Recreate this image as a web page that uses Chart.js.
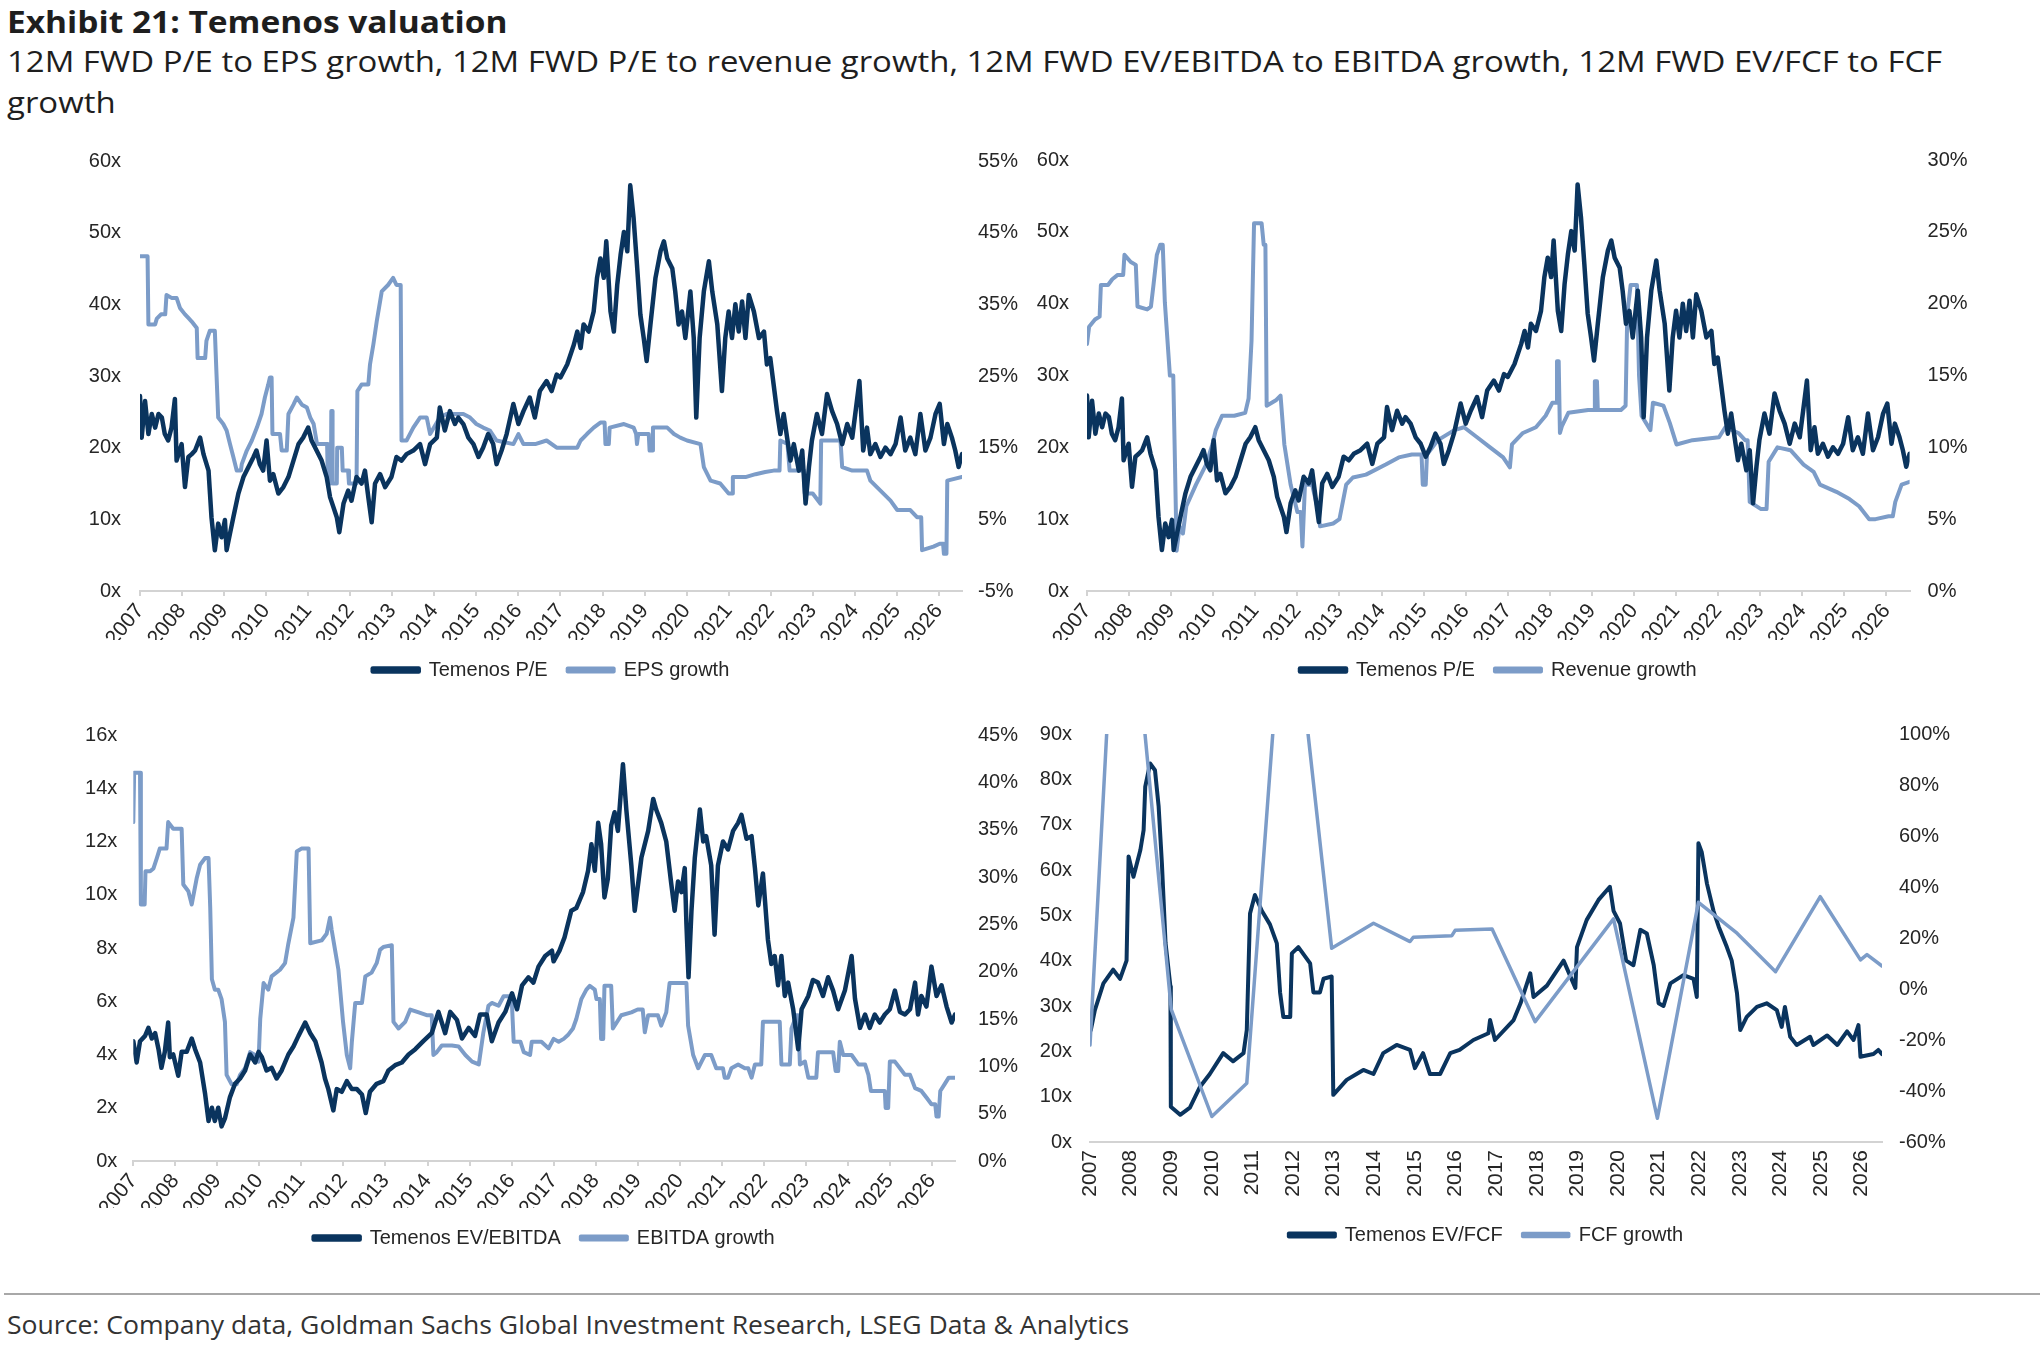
<!DOCTYPE html>
<html>
<head>
<meta charset="utf-8">
<title>Temenos valuation</title>
<script src="https://cdn.jsdelivr.net/npm/chart.js@4.4.1/dist/chart.umd.min.js"></script>
<style>
  html, body { margin: 0; padding: 0; background: #fff; }
  body { width: 2044px; height: 1372px; position: relative; overflow: hidden; font-family: "Open Sans", "Noto Sans", sans-serif; color: #1e1e1e; }
  .line { position: absolute; left: 7px; white-space: nowrap; transform-origin: 0 50%; }
  #title { top: 2px; font-size: 31px; line-height: 38px; font-weight: 700; }
  #sub1 { top: 43px; font-size: 29px; line-height: 36px; }
  #sub2 { top: 84px; font-size: 29px; line-height: 36px; }
  #rule { position: absolute; left: 4px; top: 1293px; width: 2036px; height: 2px; background: #a8a8a8; }
  #source { top: 1308px; font-size: 26px; line-height: 32px; color: #333; }
  canvas { position: absolute; }
</style>
</head>
<body>
<div class="line" id="title" data-w="501">Exhibit 21: Temenos valuation</div>
<div class="line" id="sub1" data-w="1935">12M FWD P/E to EPS growth, 12M FWD P/E to revenue growth, 12M FWD EV/EBITDA to EBITDA growth, 12M FWD EV/FCF to FCF</div>
<div class="line" id="sub2">growth</div>

<canvas id="c1" width="1040" height="560" style="left:0px;top:130px"></canvas>
<canvas id="c2" width="1094" height="560" style="left:950px;top:130px"></canvas>
<canvas id="c3" width="1040" height="558" style="left:0px;top:700px"></canvas>
<canvas id="c4" width="1094" height="555" style="left:950px;top:700px"></canvas>

<div id="rule"></div>
<div class="line" id="source" data-w="1122">Source: Company data, Goldman Sachs Global Investment Research, LSEG Data &amp; Analytics</div>

<script>
// tick labels
const yearTicks = [2007, 2008, 2009, 2010, 2011, 2012, 2013, 2014, 2015, 2016, 2017, 2018, 2019, 2020, 2021, 2022, 2023, 2024, 2025, 2026];
const peTicks = [0, 10, 20, 30, 40, 50, 60];
const epsTicks = [-5, 5, 15, 25, 35, 45, 55];
const revTicks = [0, 5, 10, 15, 20, 25, 30];
const evEbitdaTicks = [0, 2, 4, 6, 8, 10, 12, 14, 16];
const ebitdaTicks = [0, 5, 10, 15, 20, 25, 30, 35, 40, 45];
const evFcfTicks = [0, 10, 20, 30, 40, 50, 60, 70, 80, 90];
const fcfTicks = [-60, -40, -20, 0, 20, 40, 60, 80, 100];

// Temenos 12M fwd P/E  [year, x]
const temenosPE = [
  [2007.00,27.2],[2007.04,21.4],[2007.12,26.5],[2007.20,21.9],[2007.28,24.7],[2007.36,22.8],[2007.44,24.7],[2007.52,24.2],[2007.59,21.9],[2007.67,21.0],
  [2007.75,22.8],[2007.83,26.8],[2007.87,18.2],[2007.99,20.5],[2008.07,14.5],[2008.15,18.7],[2008.23,19.1],[2008.31,19.6],[2008.43,21.4],[2008.51,19.1],
  [2008.63,16.8],[2008.70,10.3],[2008.78,5.7],[2008.86,9.4],[2008.94,7.5],[2009.02,9.9],[2009.06,5.7],[2009.14,8.0],[2009.22,10.3],[2009.34,13.6],
  [2009.46,15.9],[2009.58,17.3],[2009.70,18.7],[2009.77,19.6],[2009.85,17.7],[2009.93,16.8],[2010.01,21.0],[2010.09,15.4],[2010.17,16.3],[2010.29,13.6],
  [2010.41,14.5],[2010.53,15.9],[2010.65,18.2],[2010.77,20.5],[2010.88,21.4],[2011.00,22.8],[2011.08,21.0],[2011.20,19.6],[2011.32,18.2],[2011.44,15.9],
  [2011.52,13.1],[2011.60,11.7],[2011.68,10.3],[2011.74,8.2],[2011.84,12.2],[2011.95,14.0],[2012.03,12.6],[2012.15,15.9],[2012.27,15.0],[2012.35,16.8],
  [2012.43,13.1],[2012.51,9.6],[2012.59,15.0],[2012.71,16.3],[2012.83,14.5],[2012.98,15.9],[2013.10,18.7],[2013.22,18.2],[2013.34,19.1],[2013.50,19.6],
  [2013.66,20.5],[2013.78,17.7],[2013.90,20.5],[2014.06,21.4],[2014.13,25.6],[2014.25,22.4],[2014.37,25.1],[2014.49,23.3],[2014.57,24.2],[2014.69,23.3],
  [2014.81,21.4],[2014.93,20.5],[2015.05,18.7],[2015.16,20.0],[2015.28,21.9],[2015.40,20.5],[2015.48,17.7],[2015.60,19.6],[2015.72,21.9],[2015.88,26.1],
  [2016.00,23.3],[2016.12,25.1],[2016.27,27.0],[2016.39,24.2],[2016.51,27.9],[2016.67,29.3],[2016.79,27.9],[2016.91,30.2],[2017.00,29.8],[2017.16,31.6],
  [2017.32,34.4],[2017.40,36.2],[2017.48,33.9],[2017.55,37.2],[2017.67,36.2],[2017.79,39.0],[2017.87,43.7],[2017.95,46.4],[2018.03,43.7],[2018.09,48.8],
  [2018.19,39.0],[2018.27,36.2],[2018.35,42.7],[2018.43,46.9],[2018.51,50.1],[2018.59,47.4],[2018.66,56.6],[2018.74,52.0],[2018.82,45.5],[2018.90,38.6],
  [2018.98,35.3],[2019.05,32.1],[2019.14,37.2],[2019.26,43.7],[2019.38,47.4],[2019.46,48.8],[2019.54,46.4],[2019.66,45.0],[2019.73,41.8],[2019.81,37.2],
  [2019.89,39.0],[2019.97,35.3],[2020.09,41.8],[2020.17,35.3],[2020.23,24.2],[2020.31,35.3],[2020.41,41.8],[2020.53,46.0],[2020.61,41.8],[2020.73,37.2],
  [2020.84,27.9],[2020.92,35.3],[2021.00,39.0],[2021.08,35.3],[2021.16,40.0],[2021.24,36.2],[2021.32,40.4],[2021.40,35.3],[2021.48,41.3],[2021.60,39.0],
  [2021.72,35.3],[2021.84,36.2],[2021.91,31.6],[2021.99,32.5],[2022.07,28.8],[2022.15,25.1],[2022.23,21.9],[2022.31,24.7],[2022.39,21.4],[2022.47,18.2],
  [2022.55,20.5],[2022.67,16.8],[2022.75,19.6],[2022.83,12.2],[2022.91,17.3],[2022.98,21.0],[2023.10,24.7],[2023.22,21.9],[2023.34,27.5],[2023.46,25.1],
  [2023.58,23.3],[2023.70,20.5],[2023.82,23.3],[2023.94,21.4],[2024.02,25.1],[2024.11,29.3],[2024.20,19.6],[2024.29,22.8],[2024.37,19.1],[2024.49,20.5],
  [2024.61,18.7],[2024.73,20.0],[2024.85,19.1],[2024.97,20.5],[2025.09,24.2],[2025.20,19.6],[2025.32,21.4],[2025.44,19.1],[2025.56,24.7],[2025.68,19.6],
  [2025.80,21.4],[2025.92,24.7],[2026.02,26.1],[2026.12,20.5],[2026.20,23.3],[2026.31,21.4],[2026.39,19.6],[2026.47,17.3],[2026.55,19.1]
];

// EPS growth  [year, %]
const epsGrowth = [
  [2007.00,41.7],[2007.18,41.7],[2007.20,32.2],[2007.36,32.2],[2007.40,33.0],[2007.50,33.6],[2007.60,33.6],[2007.63,36.3],[2007.75,35.9],[2007.87,35.9],
  [2007.95,34.5],[2008.07,33.6],[2008.15,33.1],[2008.23,32.6],[2008.35,31.7],[2008.37,27.5],[2008.55,27.5],[2008.58,29.9],[2008.66,31.3],[2008.78,31.3],
  [2008.82,25.2],[2008.86,19.2],[2008.98,18.3],[2009.06,17.4],[2009.14,15.5],[2009.22,13.7],[2009.30,11.8],[2009.40,11.8],[2009.42,12.7],[2009.54,14.6],
  [2009.66,16.0],[2009.78,17.8],[2009.89,19.7],[2009.97,22.0],[2010.05,23.8],[2010.09,24.8],[2010.13,24.8],[2010.15,16.9],[2010.33,16.9],[2010.37,14.6],
  [2010.49,14.6],[2010.53,19.7],[2010.65,21.0],[2010.73,22.0],[2010.85,21.0],[2010.97,20.6],[2011.05,19.2],[2011.13,18.3],[2011.21,15.5],[2011.45,15.5],
  [2011.47,10.0],[2011.54,10.0],[2011.55,20.1],[2011.57,20.1],[2011.58,10.0],[2011.68,10.0],[2011.69,15.0],[2011.80,15.0],[2011.82,11.8],[2011.95,11.8],
  [2011.97,10.0],[2012.15,10.0],[2012.17,22.9],[2012.27,23.8],[2012.43,23.8],[2012.47,26.6],[2012.55,29.4],[2012.63,32.6],[2012.75,36.8],[2012.90,37.7],
  [2013.02,38.7],[2013.10,37.7],[2013.20,37.7],[2013.22,16.0],[2013.34,16.0],[2013.50,17.8],[2013.66,19.2],[2013.82,19.2],[2013.90,16.9],[2014.13,19.2],
  [2014.29,19.7],[2014.69,19.7],[2014.85,19.2],[2015.00,18.3],[2015.16,17.8],[2015.32,17.4],[2015.48,16.0],[2015.88,15.5],[2016.00,16.9],[2016.12,15.5],
  [2016.40,15.5],[2016.67,16.0],[2016.91,15.0],[2017.40,15.0],[2017.48,16.0],[2017.63,16.9],[2017.79,17.8],[2017.95,18.5],[2018.05,18.5],[2018.07,15.5],
  [2018.15,15.5],[2018.17,17.8],[2018.51,18.3],[2018.74,17.8],[2018.80,16.9],[2018.82,15.5],[2018.85,16.9],[2019.10,16.9],[2019.12,14.6],[2019.18,14.6],
  [2019.20,17.8],[2019.54,17.8],[2019.70,16.9],[2019.85,16.4],[2020.01,16.0],[2020.33,15.5],[2020.41,12.3],[2020.57,10.4],[2020.80,10.0],[2021.00,8.6],
  [2021.08,8.6],[2021.10,10.9],[2021.40,10.9],[2021.64,11.3],[2021.87,11.6],[2022.07,11.8],[2022.21,11.8],[2022.23,16.0],[2022.40,15.5],[2022.45,11.8],
  [2022.79,11.8],[2022.81,8.6],[2023.00,8.6],[2023.18,7.2],[2023.20,16.0],[2023.66,16.0],[2023.70,12.3],[2023.94,11.8],[2024.29,11.8],[2024.37,10.4],
  [2024.61,9.0],[2024.85,7.6],[2025.01,6.3],[2025.32,6.3],[2025.48,5.3],[2025.58,5.3],[2025.60,0.7],[2025.87,1.2],[2026.02,1.6],[2026.10,1.6],
  [2026.12,0.2],[2026.18,0.2],[2026.20,10.4],[2026.55,10.9]
];

// Revenue growth  [year, %]
const revenueGrowth = [
  [2007.00,17.2],[2007.05,18.4],[2007.19,18.9],[2007.30,19.1],[2007.33,21.3],[2007.50,21.3],[2007.60,21.7],[2007.73,22.0],[2007.86,22.0],[2007.89,23.4],
  [2008.04,22.9],[2008.16,22.7],[2008.20,19.8],[2008.43,19.6],[2008.52,19.8],[2008.58,21.3],[2008.66,23.4],[2008.74,24.1],[2008.80,24.1],[2008.85,20.1],
  [2008.97,15.0],[2009.05,15.0],[2009.08,10.5],[2009.13,2.8],[2009.20,4.5],[2009.28,4.0],[2009.36,5.9],[2009.59,7.4],[2009.83,8.8],[2009.98,10.2],
  [2010.06,11.2],[2010.21,12.2],[2010.50,12.2],[2010.76,12.4],[2010.84,13.4],[2010.91,17.4],[2010.97,25.6],[2011.15,25.6],[2011.20,24.1],[2011.24,24.1],
  [2011.27,12.9],[2011.50,13.3],[2011.60,13.6],[2011.69,10.2],[2011.84,7.4],[2012.00,5.5],[2012.08,5.5],[2012.12,3.1],[2012.18,7.4],[2012.35,7.4],
  [2012.47,5.9],[2012.54,4.5],[2012.85,4.7],[2013.00,5.0],[2013.16,7.4],[2013.32,7.9],[2013.63,8.1],[2014.10,8.8],[2014.41,9.3],[2014.72,9.5],
  [2014.95,9.5],[2014.98,7.4],[2015.05,7.4],[2015.08,9.5],[2015.34,10.5],[2015.73,11.2],[2015.96,11.4],[2016.27,10.7],[2016.58,10.0],[2016.89,9.3],
  [2017.05,8.6],[2017.10,10.2],[2017.36,11.0],[2017.67,11.4],[2017.90,12.2],[2018.06,13.1],[2018.15,13.1],[2018.17,16.0],[2018.21,16.0],[2018.24,11.0],
  [2018.29,11.5],[2018.44,12.4],[2018.91,12.6],[2019.05,12.6],[2019.07,14.6],[2019.12,14.6],[2019.14,12.6],[2019.69,12.6],[2019.80,12.9],[2019.84,19.3],
  [2019.92,21.3],[2020.07,21.3],[2020.12,15.0],[2020.18,12.2],[2020.39,11.2],[2020.45,13.1],[2020.70,12.9],[2020.85,11.7],[2021.01,10.2],[2021.39,10.5],
  [2022.02,10.7],[2022.17,11.4],[2022.48,11.0],[2022.64,10.5],[2022.70,10.5],[2022.75,6.2],[2023.02,5.7],[2023.15,5.7],[2023.20,9.0],[2023.41,10.0],
  [2023.72,9.8],[2024.03,8.8],[2024.27,8.3],[2024.42,7.4],[2024.81,6.9],[2025.12,6.4],[2025.35,5.9],[2025.59,5.0],[2025.74,5.0],[2026.05,5.2],
  [2026.15,5.2],[2026.21,6.2],[2026.36,7.4],[2026.55,7.6]
];

// Temenos 12M fwd EV/EBITDA  [year, x]
const temenosEvEbitda = [
  [2007.00,4.5],[2007.08,3.7],[2007.16,4.5],[2007.28,4.7],[2007.36,5.0],[2007.44,4.6],[2007.52,4.8],[2007.60,4.2],[2007.67,3.5],[2007.75,4.1],
  [2007.83,5.2],[2007.87,3.9],[2007.95,4.0],[2008.07,3.2],[2008.15,4.1],[2008.27,4.1],[2008.39,4.6],[2008.47,4.2],[2008.59,3.7],[2008.71,2.5],
  [2008.79,1.5],[2008.87,2.0],[2008.94,1.5],[2009.02,2.0],[2009.10,1.3],[2009.18,1.6],[2009.30,2.4],[2009.42,2.9],[2009.54,3.1],[2009.66,3.4],
  [2009.78,4.0],[2009.90,3.7],[2009.98,4.1],[2010.06,3.9],[2010.17,3.4],[2010.29,3.5],[2010.41,3.1],[2010.53,3.4],[2010.69,4.0],[2010.81,4.3],
  [2010.93,4.7],[2011.09,5.2],[2011.21,4.8],[2011.33,4.5],[2011.48,3.7],[2011.56,3.1],[2011.64,2.7],[2011.76,1.9],[2011.84,2.7],[2011.96,2.6],
  [2012.08,3.0],[2012.20,2.7],[2012.32,2.7],[2012.44,2.5],[2012.53,1.8],[2012.63,2.6],[2012.79,2.9],[2012.95,3.0],[2013.07,3.4],[2013.23,3.6],
  [2013.39,3.7],[2013.55,4.0],[2013.71,4.2],[2013.90,4.5],[2014.10,4.8],[2014.26,5.6],[2014.42,4.8],[2014.54,5.6],[2014.70,5.3],[2014.82,4.6],
  [2014.98,5.0],[2015.13,4.7],[2015.25,5.5],[2015.41,5.5],[2015.53,4.5],[2015.69,5.2],[2015.85,5.6],[2016.01,6.3],[2016.13,5.7],[2016.25,6.6],
  [2016.40,6.9],[2016.52,6.7],[2016.64,7.3],[2016.80,7.7],[2016.96,7.9],[2017.00,7.5],[2017.14,7.9],[2017.26,8.4],[2017.42,9.4],[2017.54,9.5],
  [2017.70,10.1],[2017.82,10.9],[2017.90,11.9],[2017.98,10.9],[2018.06,12.7],[2018.13,11.9],[2018.21,9.9],[2018.29,10.6],[2018.37,12.6],[2018.45,13.1],
  [2018.53,12.4],[2018.65,14.9],[2018.73,13.2],[2018.85,11.1],[2018.93,9.4],[2019.01,10.4],[2019.09,11.4],[2019.25,12.4],[2019.37,13.6],[2019.44,13.2],
  [2019.56,12.7],[2019.68,12.0],[2019.80,10.4],[2019.88,9.4],[2019.96,10.5],[2020.04,10.1],[2020.12,11.0],[2020.16,8.9],[2020.21,6.9],[2020.28,9.4],
  [2020.36,11.4],[2020.48,13.2],[2020.56,12.0],[2020.63,12.2],[2020.75,11.1],[2020.83,8.5],[2020.91,11.1],[2021.03,12.0],[2021.15,11.7],[2021.27,12.4],
  [2021.39,12.7],[2021.47,13.0],[2021.59,12.1],[2021.71,12.2],[2021.79,11.0],[2021.87,9.6],[2021.98,10.8],[2022.10,8.3],[2022.18,7.4],[2022.26,7.7],
  [2022.34,6.6],[2022.42,7.7],[2022.50,6.2],[2022.58,6.7],[2022.70,5.7],[2022.82,4.2],[2022.90,5.7],[2023.06,6.2],[2023.17,6.8],[2023.29,6.7],
  [2023.41,6.2],[2023.53,6.9],[2023.65,6.4],[2023.77,5.7],[2023.93,6.4],[2024.09,7.7],[2024.17,6.1],[2024.29,5.0],[2024.41,5.5],[2024.52,5.0],
  [2024.64,5.5],[2024.76,5.2],[2024.88,5.5],[2025.00,5.7],[2025.12,6.4],[2025.24,5.6],[2025.36,5.5],[2025.48,5.7],[2025.60,6.7],[2025.67,5.5],
  [2025.75,6.2],[2025.87,5.8],[2025.99,7.3],[2026.11,6.2],[2026.23,6.6],[2026.35,5.8],[2026.47,5.2],[2026.55,5.5]
];

// EBITDA growth  [year, %]
const ebitdaGrowth = [
  [2007.00,35.8],[2007.02,41.0],[2007.16,41.0],[2007.18,27.1],[2007.27,27.1],[2007.29,30.6],[2007.40,30.6],[2007.48,30.9],[2007.56,32.0],[2007.63,33.0],
  [2007.79,33.0],[2007.83,35.8],[2007.95,35.1],[2008.15,35.1],[2008.19,29.2],[2008.31,28.5],[2008.39,27.1],[2008.51,29.9],[2008.59,31.3],[2008.71,32.0],
  [2008.79,32.0],[2008.83,26.8],[2008.87,19.2],[2008.94,18.1],[2009.02,18.1],[2009.10,17.1],[2009.18,14.7],[2009.22,9.1],[2009.34,8.1],[2009.46,8.1],
  [2009.54,9.1],[2009.66,9.8],[2009.78,11.5],[2009.90,11.2],[2009.98,10.5],[2010.02,15.0],[2010.10,18.8],[2010.21,18.1],[2010.29,19.5],[2010.49,20.2],
  [2010.61,20.9],[2010.69,23.0],[2010.81,25.7],[2010.89,32.7],[2011.00,33.0],[2011.17,33.0],[2011.21,23.0],[2011.48,23.3],[2011.60,24.0],[2011.68,25.7],
  [2011.72,24.4],[2011.80,22.3],[2011.88,20.2],[2011.99,14.7],[2012.08,11.2],[2012.16,9.8],[2012.20,12.6],[2012.28,16.7],[2012.44,16.7],[2012.52,19.5],
  [2012.67,19.9],[2012.79,20.9],[2012.87,22.3],[2012.95,22.6],[2013.15,22.8],[2013.19,14.7],[2013.31,14.0],[2013.47,14.7],[2013.59,16.0],[2013.79,15.7],
  [2013.98,15.4],[2014.10,15.4],[2014.14,11.2],[2014.22,11.5],[2014.34,12.2],[2014.58,12.2],[2014.74,12.1],[2014.90,11.2],[2015.06,10.5],[2015.22,10.2],
  [2015.33,13.6],[2015.45,16.4],[2015.53,16.7],[2015.69,16.4],[2015.81,17.4],[2016.00,17.4],[2016.05,12.6],[2016.21,12.6],[2016.29,11.5],[2016.44,11.2],
  [2016.48,12.6],[2016.71,12.6],[2016.88,11.9],[2017.00,12.9],[2017.12,12.6],[2017.24,12.9],[2017.34,13.3],[2017.46,14.0],[2017.54,15.0],[2017.66,17.1],
  [2017.78,18.1],[2017.86,18.5],[2017.98,18.1],[2018.02,17.1],[2018.10,17.1],[2018.13,12.9],[2018.18,12.9],[2018.21,18.5],[2018.37,18.5],[2018.41,14.0],
  [2018.61,15.4],[2018.85,15.7],[2019.00,16.0],[2019.12,16.0],[2019.17,13.6],[2019.25,15.4],[2019.48,15.4],[2019.56,14.3],[2019.68,15.7],[2019.76,18.8],
  [2020.16,18.8],[2020.20,14.3],[2020.32,11.2],[2020.44,9.8],[2020.52,10.5],[2020.60,11.2],[2020.75,11.2],[2020.87,9.8],[2021.03,9.8],[2021.07,8.8],
  [2021.15,8.8],[2021.23,9.8],[2021.39,10.2],[2021.55,9.8],[2021.63,9.8],[2021.71,8.8],[2021.79,10.2],[2021.94,10.2],[2021.98,14.7],[2022.38,14.7],
  [2022.42,10.2],[2022.62,10.2],[2022.66,14.0],[2022.78,15.4],[2022.82,15.4],[2022.86,10.2],[2022.98,10.5],[2023.06,8.8],[2023.25,8.8],[2023.29,11.5],
  [2023.65,11.5],[2023.71,9.5],[2023.77,9.5],[2023.81,12.6],[2023.89,11.2],[2024.09,11.2],[2024.25,10.2],[2024.41,10.2],[2024.49,9.1],[2024.55,7.4],
  [2024.88,7.4],[2024.90,5.6],[2024.96,5.6],[2025.00,10.5],[2025.12,10.5],[2025.24,9.8],[2025.36,9.1],[2025.48,9.1],[2025.60,7.7],[2025.75,7.4],
  [2025.87,6.7],[2025.99,6.0],[2026.08,6.0],[2026.11,4.7],[2026.16,4.7],[2026.20,7.4],[2026.30,8.1],[2026.40,8.8],[2026.55,8.8]
];

// Temenos 12M fwd EV/FCF  [year, x]
const temenosEvFcf = [
  [2007.02,24.7],[2007.12,29.1],[2007.33,35.0],[2007.57,38.0],[2007.74,36.0],[2007.90,40.0],[2007.95,63.0],[2008.07,58.5],[2008.24,64.4],[2008.32,68.8],
  [2008.36,78.4],[2008.48,83.5],[2008.60,82.0],[2008.69,74.0],[2008.77,61.5],[2008.86,43.9],[2008.98,34.3],[2008.99,7.8],[2009.22,6.0],[2009.46,7.6],
  [2009.71,12.2],[2009.95,15.0],[2010.28,19.6],[2010.52,17.8],[2010.78,19.6],[2010.86,24.7],[2010.94,50.4],[2011.06,54.5],[2011.23,51.0],[2011.43,48.0],
  [2011.60,43.8],[2011.68,33.0],[2011.76,27.6],[2011.93,27.6],[2011.97,41.6],[2012.13,43.0],[2012.42,39.4],[2012.50,33.0],[2012.66,33.0],[2012.75,36.0],
  [2012.95,36.5],[2012.99,10.4],[2013.32,13.7],[2013.73,15.9],[2013.98,15.0],[2014.22,19.6],[2014.55,21.4],[2014.88,20.3],[2015.00,16.3],[2015.20,19.6],
  [2015.37,15.0],[2015.62,15.0],[2015.87,19.6],[2016.10,20.3],[2016.44,22.5],[2016.81,24.0],[2016.85,26.9],[2016.97,22.5],[2017.43,26.9],[2017.60,30.6],
  [2017.84,37.2],[2017.92,32.0],[2018.25,34.5],[2018.66,40.0],[2018.95,34.0],[2018.99,43.0],[2019.23,49.0],[2019.52,53.4],[2019.80,56.3],[2019.89,51.0],
  [2020.05,48.2],[2020.20,40.0],[2020.38,39.0],[2020.55,46.8],[2020.71,46.0],[2020.88,39.0],[2021.00,30.6],[2021.12,30.0],[2021.29,35.0],[2021.61,36.8],
  [2021.86,36.0],[2021.94,32.0],[2021.98,65.9],[2022.06,64.0],[2022.19,57.0],[2022.35,51.0],[2022.48,47.5],[2022.68,43.0],[2022.80,40.0],[2022.93,32.8],
  [2023.01,24.7],[2023.17,27.6],[2023.42,29.8],[2023.66,30.6],[2023.91,29.1],[2024.03,25.4],[2024.11,29.8],[2024.24,23.2],[2024.40,21.4],[2024.73,23.2],
  [2024.81,21.4],[2025.15,23.5],[2025.40,21.4],[2025.64,24.4],[2025.80,22.5],[2025.92,25.8],[2025.97,18.8],[2026.29,19.4],[2026.41,20.3],[2026.50,19.4]
];

// FCF growth  [year, %] (peaks run off the top of the axis)
const fcfGrowth = [
  [2007.00,-22],[2007.75,201],[2009.00,-8],[2010.00,-50],[2010.86,-37],[2011.85,175],[2012.95,16],[2013.98,25.8],[2014.88,18.6],[2014.96,20.3],
  [2015.91,20.9],[2015.99,23.0],[2016.90,23.5],[2017.96,-12.8],[2019.89,27.5],[2020.97,-50.7],[2021.98,34.0],[2022.93,21.9],[2023.88,6.8],[2024.98,36.2],
  [2025.97,11.4],[2026.13,13.5],[2026.50,9.0]
];

const DARK = '#0a345e';
const LIGHT = '#7c9cc8';
const AXIS = '#d3d3d3';
const TXT = '#262626';
const FONT = '"Liberation Sans", Arial, sans-serif';

Chart.defaults.font.family = FONT;
Chart.defaults.font.size = 20;
Chart.defaults.color = TXT;

function fixTicks(list) {
    return scale => { scale.ticks = list.map(v => ({ value: v })); };
}

function makePanel(canvasId, p) {
    const ctx = document.getElementById(canvasId).getContext('2d');
    return new Chart(ctx, {
        type: 'line',
        data: {
            datasets: [
                {
                    label: p.darkLabel, data: p.dark, yAxisID: 'yL',
                    borderColor: DARK, backgroundColor: DARK, borderWidth: p.lwDark,
                    order: p.darkOrder
                },
                {
                    label: p.lightLabel, data: p.light, yAxisID: 'yR',
                    borderColor: LIGHT, backgroundColor: LIGHT, borderWidth: p.lwLight,
                    order: p.lightOrder
                }
            ]
        },
        options: {
            responsive: false,
            animation: false,
            events: [],
            layout: { padding: { top: p.padTop, left: 0, right: 0, bottom: 0 } },
            elements: {
                point: { radius: 0 },
                line: { tension: 0, borderJoinStyle: 'round', borderCapStyle: 'round', fill: false }
            },
            plugins: {
                tooltip: { enabled: false },
                legend: {
                    position: 'bottom',
                    fullSize: false,
                    labels: {
                        boxWidth: 46, boxHeight: 3, padding: 20, color: TXT,
                        font: { size: 20, family: FONT },
                        sort: (a, b) => a.datasetIndex - b.datasetIndex
                    }
                }
            },
            scales: {
                x: {
                    type: 'linear', min: 2007, max: p.xMax,
                    afterBuildTicks: fixTicks(yearTicks),
                    afterFit: s => { s.height = p.xHeight; },
                    grid: { display: true, drawOnChartArea: false, drawTicks: p.tickLen > 0, tickLength: p.tickLen, color: AXIS, lineWidth: 2 },
                    border: { display: true, color: AXIS, width: 2 },
                    ticks: {
                        autoSkip: false, minRotation: p.rot, maxRotation: p.rot, padding: p.xPad,
                        color: TXT, font: { size: 21, family: FONT },
                        callback: v => String(v)
                    }
                },
                yL: {
                    position: 'left', min: p.leftTicks[0], max: p.leftTicks[p.leftTicks.length - 1],
                    afterBuildTicks: fixTicks(p.leftTicks),
                    afterFit: s => { s.width = p.leftW; },
                    grid: { display: false, drawTicks: false },
                    border: { display: false },
                    ticks: { padding: p.padL, color: TXT, font: { size: 20, family: FONT }, callback: v => v + 'x' }
                },
                yR: {
                    position: 'right', min: p.rightTicks[0], max: p.rightTicks[p.rightTicks.length - 1],
                    afterBuildTicks: fixTicks(p.rightTicks),
                    afterFit: s => { s.width = p.rightW; },
                    grid: { display: false, drawTicks: false },
                    border: { display: false },
                    ticks: { padding: p.padR, color: TXT, font: { size: 20, family: FONT }, callback: v => v + '%' }
                }
            }
        }
    });
}

// P/E vs EPS growth
makePanel('c1', {
    darkLabel: 'Temenos P/E', lightLabel: 'EPS growth', dark: temenosPE, light: epsGrowth,
    leftTicks: peTicks, rightTicks: epsTicks, xMax: 2026.55,
    padTop: 29, leftW: 140, rightW: 78, xHeight: 49, padL: 19, padR: 16,
    rot: 50, tickLen: 5, xPad: 3, lwDark: 4.5, lwLight: 4, darkOrder: 0, lightOrder: 1
});

// P/E vs revenue growth
makePanel('c2', {
    darkLabel: 'Temenos P/E', lightLabel: 'Revenue growth', dark: temenosPE, light: revenueGrowth,
    leftTicks: peTicks, rightTicks: revTicks, xMax: 2026.55,
    padTop: 29, leftW: 137, rightW: 134.4, xHeight: 49, padL: 18, padR: 18,
    rot: 50, tickLen: 5, xPad: 3, lwDark: 4.5, lwLight: 4, darkOrder: 0, lightOrder: 1
});

// EV/EBITDA vs EBITDA growth
makePanel('c3', {
    darkLabel: 'Temenos EV/EBITDA', lightLabel: 'EBITDA growth', dark: temenosEvEbitda, light: ebitdaGrowth,
    leftTicks: evEbitdaTicks, rightTicks: ebitdaTicks, xMax: 2026.55,
    padTop: 28, leftW: 133.3, rightW: 85, xHeight: 47, padL: 16, padR: 23,
    rot: 50, tickLen: 5, xPad: 3, lwDark: 4.5, lwLight: 4, darkOrder: 0, lightOrder: 1
});

// EV/FCF vs FCF growth
makePanel('c4', {
    darkLabel: 'Temenos EV/FCF', lightLabel: 'FCF growth', dark: temenosEvFcf, light: fcfGrowth,
    leftTicks: evFcfTicks, rightTicks: fcfTicks, xMax: 2026.5,
    padTop: 34, leftW: 140, rightW: 162, xHeight: 63, padL: 18, padR: 17,
    rot: 90, tickLen: 0, xPad: 8, lwDark: 4, lwLight: 3.5, darkOrder: 1, lightOrder: 0
});

// stretch the header / footer lines to the widths they have in the exhibit
function fitLines() {
    const s1 = document.getElementById('sub1');
    document.querySelectorAll('.line[data-w]').forEach(el => {
        el.style.transform = 'none';
        const k = Number(el.dataset.w) / el.offsetWidth;
        el.style.transform = 'scaleX(' + k + ')';
        if (el === s1) document.getElementById('sub2').style.transform = 'scaleX(' + k + ')';
    });
}
fitLines();
if (document.fonts && document.fonts.ready) document.fonts.ready.then(fitLines);
</script>
</body>
</html>
